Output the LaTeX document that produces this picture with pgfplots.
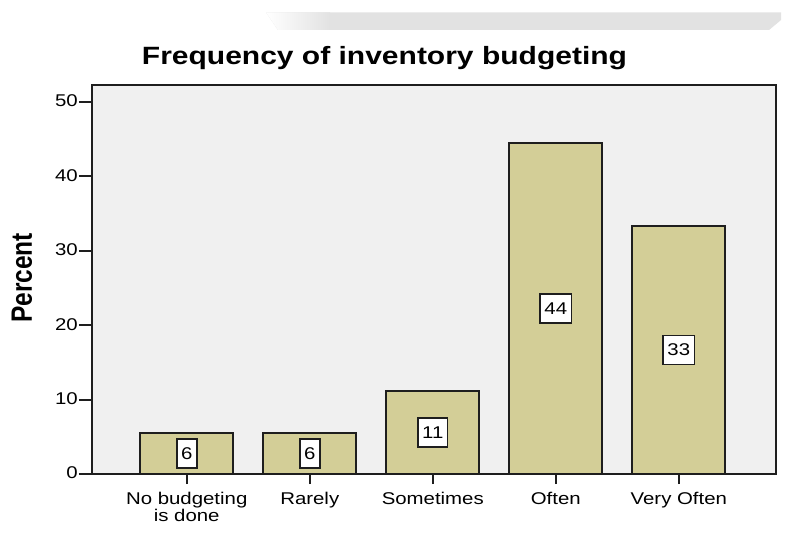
\documentclass[border=0pt]{standalone}
\usepackage{fontspec}
\setmainfont{Liberation Sans}[FakeStretch=1.2]
\newfontfamily\ylabfont{Liberation Sans}[FakeStretch=0.8333]
\usepackage{pgfplots}
\pgfplotsset{compat=1.18}
\usepackage{pgfplotstable}
\definecolor{barfill}{RGB}{211,206,151}
\definecolor{plotbg}{RGB}{240,240,240}
\definecolor{edge}{RGB}{30,30,30}
\definecolor{banner}{RGB}{226,226,226}

\pgfplotstableread{
x y lab
0 5.56 6
1 5.56 6
2 11.11 11
3 44.44 44
4 33.33 33
}\data

\begin{document}
\begin{tikzpicture}[x=1pt,y=1pt]
\path[use as bounding box, fill=white] (0,0) rectangle (799,544);
\fill[banner] (266,531.7) -- (781,531.7) -- (781,524) -- (769,514) -- (278,514) -- cycle;
\shade[left color=white, right color=banner] (266,531.7) -- (330,531.7) -- (330,514) -- (278,514) -- cycle;
\begin{axis}[
  at={(92pt,70pt)}, anchor=south west,
  scale only axis, width=684pt, height=389pt,
  xmin=-0.77, xmax=4.79, ymin=0, ymax=52.3,
  axis background/.style={fill=plotbg},
  axis line style={draw=edge, line width=2pt},
  xtick={0,1,2,3,4},
  xticklabels={{No budgeting\\is done},Rarely,Sometimes,Often,Very Often},
  ytick={0,10,20,30,40,50},
  tick align=outside, xtick pos=bottom, ytick pos=left,
  major tick length=13pt,
  xtick style={/pgfplots/major tick length=10pt, draw=edge, line width=2pt},
  ytick style={draw=edge, line width=2pt},
  /pgf/number format/assume math mode=true,
  xticklabel style={font=\fontsize{17}{14}\selectfont, align=center, inner sep=1pt, yshift=-4pt},
  yticklabel style={font=\fontsize{17}{20}\selectfont, inner sep=1pt, yshift=1pt},
  ylabel={Percent},
  ylabel style={at={(rel axis cs:-0.1023,0.504)}, anchor=center, font=\ylabfont\fontsize{29.4}{30}\selectfont\bfseries},
  title={Frequency of inventory budgeting},
  title style={at={(rel axis cs:0.4276,1.0368)}, anchor=base, font=\fontsize{25}{30}\selectfont\bfseries},
]
\addplot[ybar, bar width=93pt, bar shift=0pt, fill=barfill, draw=edge, line width=2pt]
  table[x=x, y=y] {\data};
\addplot[only marks, mark=none, nodes near coords, point meta=explicit symbolic,
  every node near coord/.style={draw=edge, fill=white, line width=1.6pt, anchor=center,
    font=\fontsize{17}{20}\selectfont, inner xsep=4.3pt, inner ysep=0pt, minimum height=29pt}]
  table[x=x, y expr=\thisrow{y}/2, meta=lab] {\data};
\end{axis}
\end{tikzpicture}
\end{document}
